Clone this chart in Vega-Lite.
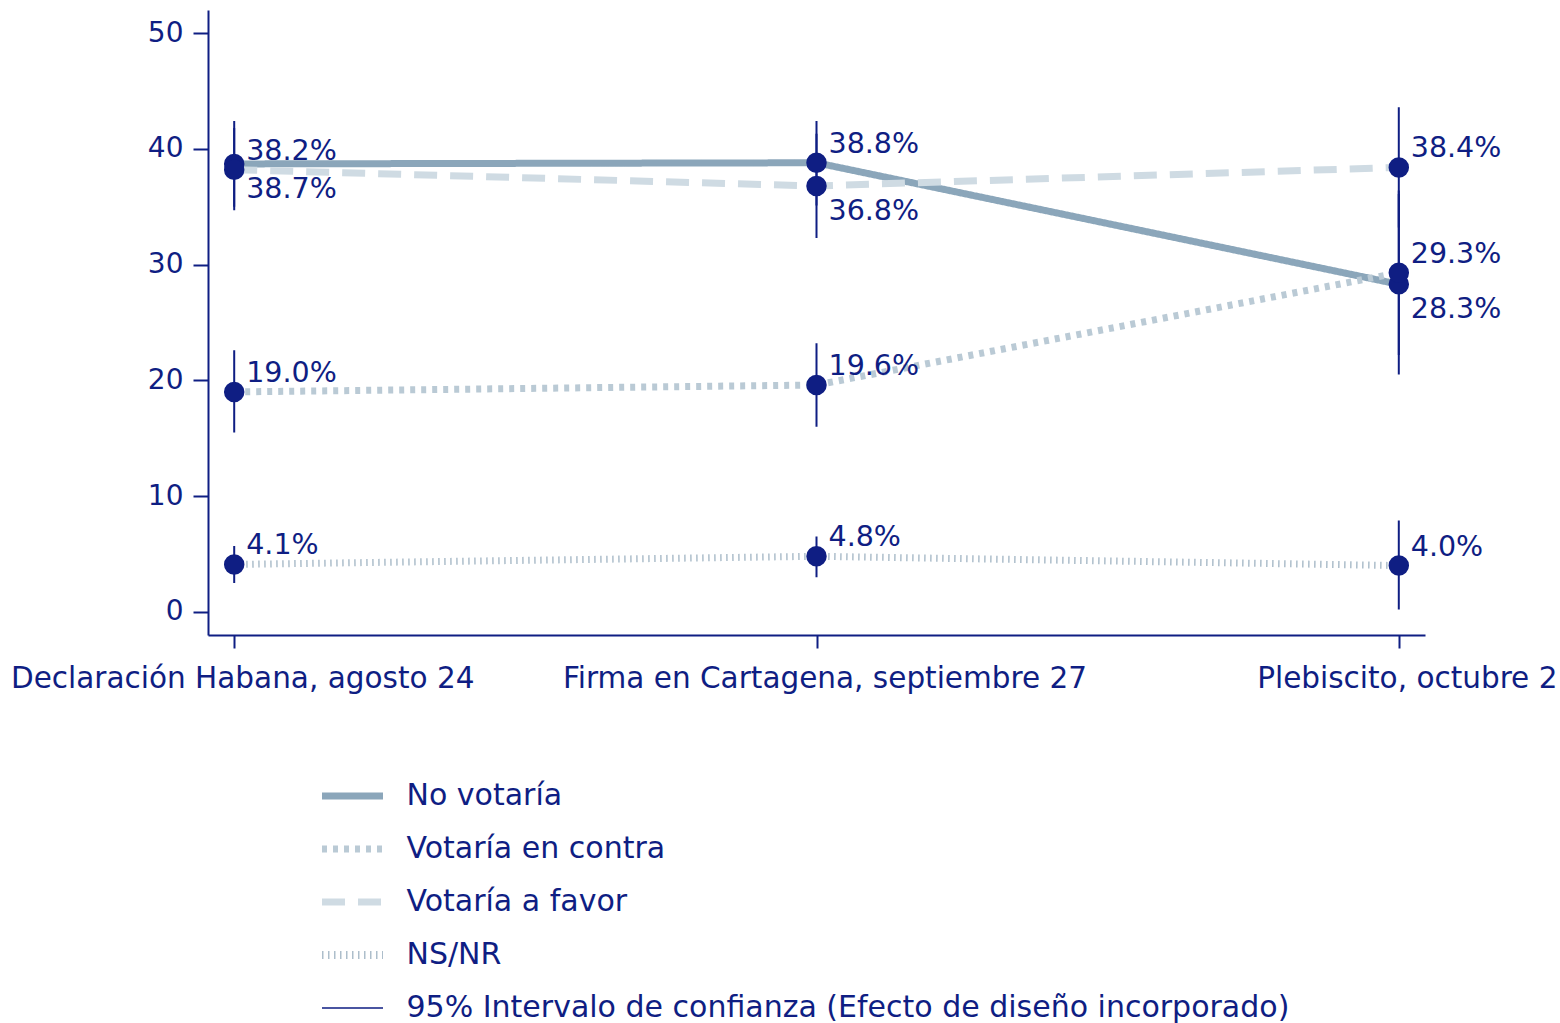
{
  "$schema": "https://vega.github.io/schema/vega-lite/v6.json",
  "autosize": "none",
  "width": 1217,
  "height": 625,
  "padding": {"left": 208, "top": 10, "right": 135, "bottom": 388},
  "background": "white",
  "config": {
    "view": {"stroke": null},
    "font": "DejaVu Sans",
    "legend": {"padding": 0}
  },
  "data": {
    "values": [
      {"momento": "Declaración Habana, agosto 24", "serie": "No votaría", "pct": 38.7, "lo": 35.0, "hi": 42.4},
      {"momento": "Firma en Cartagena, septiembre 27", "serie": "No votaría", "pct": 38.8, "lo": 35.1, "hi": 42.4},
      {"momento": "Plebiscito, octubre 2", "serie": "No votaría", "pct": 28.3, "lo": 20.5, "hi": 36.1},
      {"momento": "Declaración Habana, agosto 24", "serie": "Votaría en contra", "pct": 19.0, "lo": 15.5, "hi": 22.6},
      {"momento": "Firma en Cartagena, septiembre 27", "serie": "Votaría en contra", "pct": 19.6, "lo": 16.0, "hi": 23.2},
      {"momento": "Plebiscito, octubre 2", "serie": "Votaría en contra", "pct": 29.3, "lo": 22.2, "hi": 36.4},
      {"momento": "Declaración Habana, agosto 24", "serie": "Votaría a favor", "pct": 38.2, "lo": 34.7, "hi": 41.8},
      {"momento": "Firma en Cartagena, septiembre 27", "serie": "Votaría a favor", "pct": 36.8, "lo": 32.3, "hi": 41.3},
      {"momento": "Plebiscito, octubre 2", "serie": "Votaría a favor", "pct": 38.4, "lo": 33.2, "hi": 43.6},
      {"momento": "Declaración Habana, agosto 24", "serie": "NS/NR", "pct": 4.1, "lo": 2.5, "hi": 5.7},
      {"momento": "Firma en Cartagena, septiembre 27", "serie": "NS/NR", "pct": 4.8, "lo": 3.0, "hi": 6.5},
      {"momento": "Plebiscito, octubre 2", "serie": "NS/NR", "pct": 4.0, "lo": 0.2, "hi": 7.9}
    ]
  },
  "transform": [
    {"calculate": "format(datum.pct, '.1f') + '%'", "as": "etiqueta"}
  ],
  "encoding": {
    "x": {
      "field": "momento",
      "type": "nominal",
      "sort": ["Declaración Habana, agosto 24", "Firma en Cartagena, septiembre 27", "Plebiscito, octubre 2"],
      "scale": {"type": "point", "padding": 0.045},
      "axis": {
        "title": null,
        "labelAngle": 0,
        "labelLimit": 1000,
        "labelOverlap": false,
        "labelFontSize": 29.5,
        "labelColor": "#0F1E83",
        "labelPadding": 16,
        "labelOffset": 8,
        "labelBaseline": "top",
        "tickSize": 13,
        "tickWidth": 2,
        "tickColor": "#0F1E83",
        "domainColor": "#0F1E83",
        "domainWidth": 2,
        "grid": false
      }
    }
  },
  "layer": [
    {
      "mark": {"type": "line", "strokeWidth": 7, "strokeCap": "butt"},
      "encoding": {
        "y": {
          "field": "pct",
          "type": "quantitative",
          "scale": {"domain": [-2, 52], "nice": false, "zero": false},
          "axis": {
            "title": null,
            "values": [0, 10, 20, 30, 40, 50],
            "labelFontSize": 28,
            "labelColor": "#0F1E83",
            "labelPadding": 10,
            "tickSize": 15,
            "tickWidth": 2,
            "tickColor": "#0F1E83",
            "domainColor": "#0F1E83",
            "domainWidth": 2,
            "grid": false
          }
        },
        "color": {
          "field": "serie",
          "type": "nominal",
          "scale": {
            "domain": ["No votaría", "Votaría en contra", "Votaría a favor", "NS/NR", "95% Intervalo de confianza (Efecto de diseño incorporado)"],
            "range": ["#8BA6BA", "#BACAD5", "#CFDBE3", "#ADBECB", "#0F1E83"]
          },
          "legend": {
            "title": null,
            "orient": "none",
            "legendX": 113,
            "legendY": 759.5,
            "direction": "vertical",
            "columns": 1,
            "symbolType": "stroke",
            "symbolSize": 3721,
            "symbolStrokeWidth": 7,
            "symbolOffset": 16.5,
            "clipHeight": 53,
            "rowPadding": 0,
            "labelOffset": 39,
            "labelFontSize": 30,
            "labelColor": "#0F1E83",
            "labelLimit": 2000,
            "labelFont": "DejaVu Sans",
            "encode": {
              "symbols": {
                "update": {
                  "strokeWidth": {"signal": "datum.value === '95% Intervalo de confianza (Efecto de diseño incorporado)' ? 1.5 : (datum.value === 'NS/NR' ? 8 : 7)"}
                }
              }
            }
          }
        },
        "strokeDash": {
          "field": "serie",
          "type": "nominal",
          "scale": {
            "domain": ["No votaría", "Votaría en contra", "Votaría a favor", "NS/NR", "95% Intervalo de confianza (Efecto de diseño incorporado)"],
            "range": [[1, 0], [5, 6], [23, 13], [1.5, 4.5], [1, 0]]
          },
          "legend": {
            "title": null,
            "orient": "none",
            "legendX": 113,
            "legendY": 759.5,
            "direction": "vertical",
            "columns": 1,
            "symbolType": "stroke",
            "symbolSize": 3721,
            "symbolStrokeWidth": 7,
            "symbolOffset": 16.5,
            "clipHeight": 53,
            "rowPadding": 0,
            "labelOffset": 39,
            "labelFontSize": 30,
            "labelColor": "#0F1E83",
            "labelLimit": 2000,
            "labelFont": "DejaVu Sans",
            "encode": {
              "symbols": {
                "update": {
                  "strokeWidth": {"signal": "datum.value === '95% Intervalo de confianza (Efecto de diseño incorporado)' ? 1.5 : (datum.value === 'NS/NR' ? 8 : 7)"}
                }
              }
            }
          }
        },
        "strokeWidth": {
          "condition": {"test": "datum.serie === 'NS/NR'", "value": 8},
          "value": 7
        }
      }
    },
    {
      "mark": {"type": "rule", "strokeWidth": 2},
      "encoding": {
        "y": {"field": "lo", "type": "quantitative"},
        "y2": {"field": "hi"},
        "color": {"datum": "95% Intervalo de confianza (Efecto de diseño incorporado)", "type": "nominal"},
        "strokeDash": {"datum": "95% Intervalo de confianza (Efecto de diseño incorporado)", "type": "nominal"}
      }
    },
    {
      "mark": {"type": "point", "shape": "circle", "filled": true, "size": 420, "color": "#0F1E83", "opacity": 1},
      "encoding": {
        "y": {"field": "pct", "type": "quantitative"}
      }
    },
    {
      "transform": [
        {"filter": "!((datum.serie === 'No votaría' && datum.momento !== 'Firma en Cartagena, septiembre 27') || (datum.serie === 'Votaría a favor' && datum.momento === 'Firma en Cartagena, septiembre 27'))"}
      ],
      "mark": {"type": "text", "align": "left", "baseline": "middle", "dx": 12, "dy": -19, "fontSize": 28.5, "color": "#0F1E83", "font": "DejaVu Sans"},
      "encoding": {
        "y": {"field": "pct", "type": "quantitative"},
        "text": {"field": "etiqueta", "type": "nominal"}
      }
    },
    {
      "transform": [
        {"filter": "(datum.serie === 'No votaría' && datum.momento !== 'Firma en Cartagena, septiembre 27') || (datum.serie === 'Votaría a favor' && datum.momento === 'Firma en Cartagena, septiembre 27')"}
      ],
      "mark": {"type": "text", "align": "left", "baseline": "middle", "dx": 12, "dy": 25, "fontSize": 28.5, "color": "#0F1E83", "font": "DejaVu Sans"},
      "encoding": {
        "y": {"field": "pct", "type": "quantitative"},
        "text": {"field": "etiqueta", "type": "nominal"}
      }
    }
  ]
}
